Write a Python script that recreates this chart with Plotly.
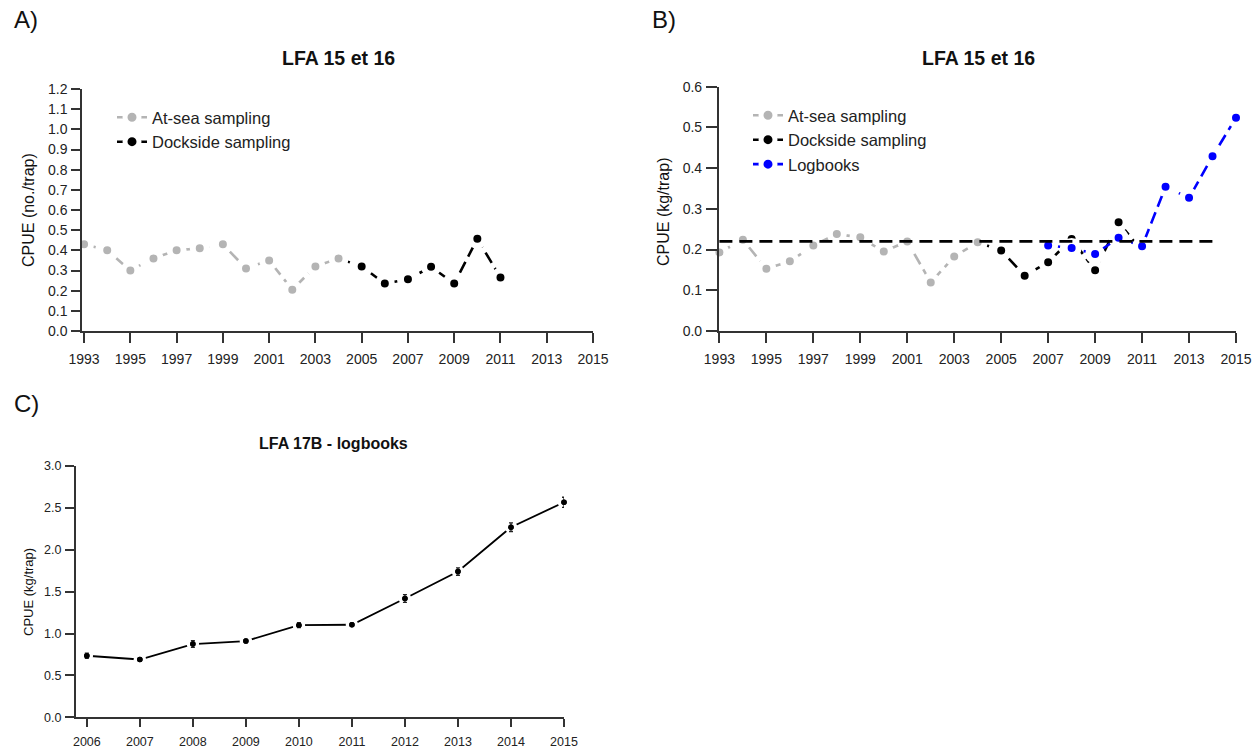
import plotly.graph_objects as go

# ---------------- data ----------------
# Panel A: LFA 15 et 16, CPUE (no./trap)
a_atsea_years = list(range(1993, 2005))
a_atsea_vals = [0.43, 0.40, 0.30, 0.36, 0.40, 0.41, 0.43, 0.31, 0.35, 0.205, 0.32, 0.36]
a_dock_years = list(range(2004, 2012))
a_dock_vals = [0.36, 0.32, 0.235, 0.257, 0.318, 0.235, 0.457, 0.265]

# Panel B: LFA 15 et 16, CPUE (kg/trap)
b_atsea_years = list(range(1993, 2005))
b_atsea_vals = [0.193, 0.224, 0.153, 0.171, 0.21, 0.238, 0.23, 0.195, 0.22, 0.119, 0.183, 0.218]
b_dock_years = list(range(2004, 2012))
b_dock_vals = [0.218, 0.198, 0.136, 0.169, 0.226, 0.149, 0.267, 0.196]
b_log_years = list(range(2007, 2016))
b_log_vals = [0.21, 0.204, 0.189, 0.229, 0.208, 0.354, 0.327, 0.429, 0.524]
b_ref_years = [1993, 2014.1]
b_ref_level = 0.22

# Panel C: LFA 17B - logbooks
c_years = list(range(2006, 2016))
c_vals = [0.735, 0.69, 0.874, 0.91, 1.10, 1.105, 1.418, 1.74, 2.27, 2.567]
c_err = [0.03, 0.015, 0.04, 0.02, 0.03, 0.02, 0.046, 0.044, 0.052, 0.06]

a_xticks = list(range(1993, 2016, 2))
a_yticks = [round(0.1 * i, 1) for i in range(13)]
b_yticks = [round(0.1 * i, 1) for i in range(7)]
c_xticks = list(range(2006, 2016))
c_yticks = [0.0, 0.5, 1.0, 1.5, 2.0, 2.5, 3.0]

# ---------------- styling ----------------
W, H = 1260, 750
FONT = "Arial, Liberation Sans, Helvetica, sans-serif"
GRAY = "#b4b4b4"
BLACK = "#000000"
BLUE = "#0000ff"
AXC = "#333333"
DASH = "12px,6px"


def px_x(p):
    return p / W


def px_y(p):
    return 1 - p / H


def mk(color, size=14, lw=6):
    return dict(color=color, size=size, line=dict(color="white", width=lw))


fig = go.Figure()

# Panel A traces
fig.add_trace(go.Scatter(x=a_dock_years, y=a_dock_vals, mode="lines+markers", name="Dockside sampling",
                         line=dict(color=BLACK, width=2.6, dash=DASH), marker=mk(BLACK),
                         xaxis="x", yaxis="y", legend="legend", legendrank=2, cliponaxis=False))
fig.add_trace(go.Scatter(x=a_atsea_years, y=a_atsea_vals, mode="lines+markers", name="At-sea sampling",
                         line=dict(color=GRAY, width=2.6, dash=DASH), marker=mk(GRAY),
                         xaxis="x", yaxis="y", legend="legend", legendrank=1, cliponaxis=False))

# Panel B traces
fig.add_trace(go.Scatter(x=b_dock_years, y=b_dock_vals, mode="lines+markers", name="Dockside sampling",
                         line=dict(color=BLACK, width=2.6, dash=DASH), marker=mk(BLACK),
                         xaxis="x2", yaxis="y2", legend="legend2", legendrank=2, cliponaxis=False))
fig.add_trace(go.Scatter(x=b_atsea_years, y=b_atsea_vals, mode="lines+markers", name="At-sea sampling",
                         line=dict(color=GRAY, width=2.6, dash=DASH), marker=mk(GRAY),
                         xaxis="x2", yaxis="y2", legend="legend2", legendrank=1, cliponaxis=False))
fig.add_trace(go.Scatter(x=b_log_years, y=b_log_vals, mode="lines+markers", name="Logbooks",
                         line=dict(color=BLUE, width=2.6, dash=DASH), marker=mk(BLUE),
                         xaxis="x2", yaxis="y2", legend="legend2", legendrank=3, cliponaxis=False))
fig.add_trace(go.Scatter(x=b_ref_years, y=[b_ref_level] * len(b_ref_years), mode="lines",
                         line=dict(color=BLACK, width=2.6, dash="13px,7px"), showlegend=False,
                         xaxis="x2", yaxis="y2", cliponaxis=False))

# Panel C traces: line with gaps around points, then points with error bars on top
fig.add_trace(go.Scatter(x=c_years, y=c_vals, mode="lines+markers",
                         line=dict(color=BLACK, width=1.8),
                         marker=dict(color=BLACK, size=9, line=dict(color="white", width=3.5)),
                         showlegend=False, xaxis="x3", yaxis="y3", cliponaxis=False))
fig.add_trace(go.Scatter(x=c_years, y=c_vals, mode="markers",
                         marker=dict(color=BLACK, size=5.5),
                         error_y=dict(type="data", array=c_err, color="#222222", thickness=1.3, width=2),
                         showlegend=False, xaxis="x3", yaxis="y3", cliponaxis=False))

axis_common = dict(showline=True, linecolor=AXC, linewidth=1.5, ticks="outside", tickcolor=AXC,
                   tickwidth=1.5, showgrid=False, zeroline=False, fixedrange=True, automargin=False)

tickfontAB = dict(family=FONT, size=14, color="#222222")
tickfontC = dict(family=FONT, size=12.5, color="#222222")
legfont = dict(family=FONT, size=16.5, color="#222222")

fig.update_layout(
    width=W, height=H,
    margin=dict(l=0, r=0, t=0, b=0, autoexpand=False),
    paper_bgcolor="white", plot_bgcolor="white",
    font=dict(family=FONT, color="#222222"),
    xaxis=dict(domain=[px_x(82), px_x(593)], range=[1992.91, 2015], tickvals=a_xticks,
               anchor="y", ticklen=10, tickfont=tickfontAB, ticklabelstandoff=4, **axis_common),
    yaxis=dict(domain=[px_y(331), px_y(89)], range=[0, 1.2], tickvals=a_yticks, tickformat=".1f",
               anchor="x", ticklen=9, tickfont=tickfontAB, ticklabelstandoff=1, **axis_common),
    xaxis2=dict(domain=[px_x(718.7), px_x(1236)], range=[1992.97, 2015], tickvals=a_xticks,
                anchor="y2", ticklen=10, tickfont=tickfontAB, ticklabelstandoff=4, **axis_common),
    yaxis2=dict(domain=[px_y(331), px_y(86.7)], range=[0, 0.6], tickvals=b_yticks, tickformat=".1f",
                anchor="x2", ticklen=11, tickfont=tickfontAB, ticklabelstandoff=1, **axis_common),
    xaxis3=dict(domain=[px_x(75.7), px_x(564)], range=[2005.79, 2015], tickvals=c_xticks,
                anchor="y3", ticklen=8, tickfont=tickfontC, ticklabelstandoff=4, **axis_common),
    yaxis3=dict(domain=[px_y(717.3), px_y(466)], range=[0, 3.0], tickvals=c_yticks, tickformat=".1f",
                anchor="x3", ticklen=9, tickfont=tickfontC, ticklabelstandoff=1, **axis_common),
    legend=dict(x=px_x(112), y=px_y(100), xanchor="left", yanchor="top", bgcolor="rgba(0,0,0,0)",
                font=legfont, tracegroupgap=0, itemwidth=30),
    legend2=dict(x=px_x(748), y=px_y(98), xanchor="left", yanchor="top", bgcolor="rgba(0,0,0,0)",
                 font=legfont, tracegroupgap=0, itemwidth=30),
    showlegend=True,
)

annots = [
    dict(text="A)", x=px_x(12), y=px_y(20), xanchor="left", yanchor="middle", font=dict(size=24)),
    dict(text="B)", x=px_x(650), y=px_y(20), xanchor="left", yanchor="middle", font=dict(size=24)),
    dict(text="C)", x=px_x(12), y=px_y(403), xanchor="left", yanchor="middle", font=dict(size=24)),
    dict(text="<b>LFA 15 et 16</b>", x=px_x(338), y=px_y(58), xanchor="center", yanchor="middle", font=dict(size=19.5)),
    dict(text="<b>LFA 15 et 16</b>", x=px_x(978), y=px_y(58), xanchor="center", yanchor="middle", font=dict(size=19.5)),
    dict(text="<b>LFA 17B - logbooks</b>", x=px_x(333), y=px_y(443), xanchor="center", yanchor="middle", font=dict(size=16)),
    dict(text="CPUE (no./trap)", x=px_x(28), y=px_y(210), textangle=-90, xanchor="center", yanchor="middle", font=dict(size=16)),
    dict(text="CPUE (kg/trap)", x=px_x(664), y=px_y(212), textangle=-90, xanchor="center", yanchor="middle", font=dict(size=16)),
    dict(text="CPUE (kg/trap)", x=px_x(28), y=px_y(592), textangle=-90, xanchor="center", yanchor="middle", font=dict(size=13)),
]
for a in annots:
    a.update(xref="paper", yref="paper", showarrow=False)
    a["font"].update(family=FONT, color="#111111")
fig.update_layout(annotations=annots)

fig.write_html("out.html", config={"displayModeBar": False},
               post_script="document.body.style.margin='0';document.body.style.padding='0';")
